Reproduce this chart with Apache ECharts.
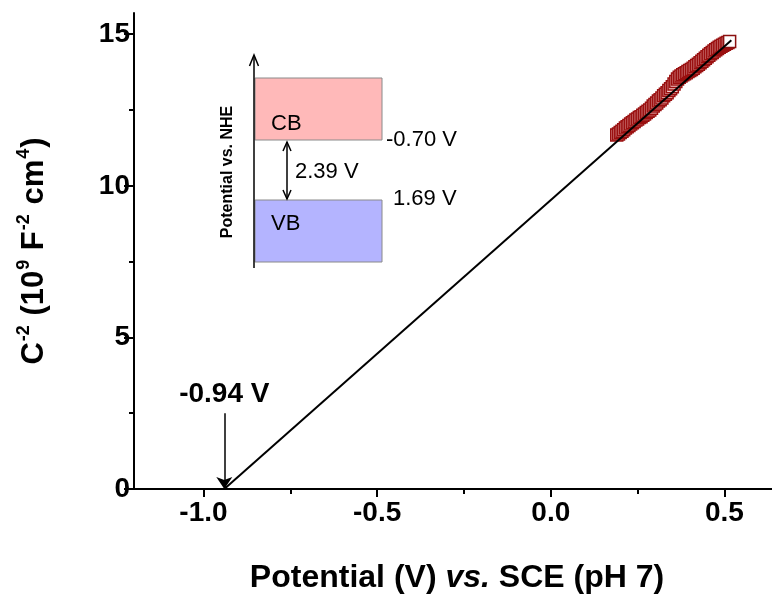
<!DOCTYPE html>
<html>
<head>
<meta charset="utf-8">
<script src="https://cdn.jsdelivr.net/npm/echarts@6/dist/echarts.min.js"></script>
<style>html,body{margin:0;padding:0;background:#fff}#c{width:772px;height:599px}</style>
</head>
<body>
<div id="c"></div>
<script>
// ---- data ----
const xTickValues = [-1.0, -0.5, 0.0, 0.5];
const xMinorTicks = [-0.75, -0.25, 0.25];
const yTickValues = [0, 5, 10, 15];
const yMinorTicks = [2.5, 7.5, 12.5];
const measuredX = [0.190,0.195,0.200,0.205,0.210,0.215,0.220,0.225,0.230,0.235,0.240,0.245,0.250,0.255,0.260,0.265,0.270,0.275,0.280,0.285,0.290,0.295,0.300,0.305,0.310,0.315,0.320,0.325,0.330,0.335,0.340,0.345,0.350,0.355,0.360,0.365,0.370,0.375,0.380,0.385,0.390,0.395,0.400,0.405,0.410,0.415,0.420,0.425,0.430,0.435,0.440,0.445,0.450,0.455,0.460,0.465,0.470,0.475,0.480,0.485,0.490,0.495,0.500,0.505,0.510,0.515];
const measuredY = [11.68,11.71,11.76,11.80,11.85,11.91,11.95,11.99,12.04,12.08,12.12,12.17,12.20,12.25,12.28,12.33,12.37,12.42,12.46,12.50,12.56,12.63,12.68,12.73,12.80,12.84,12.90,12.97,13.02,13.07,13.14,13.20,13.27,13.36,13.44,13.52,13.58,13.62,13.66,13.70,13.73,13.77,13.80,13.84,13.88,13.93,13.97,14.01,14.06,14.11,14.16,14.21,14.26,14.31,14.36,14.40,14.45,14.49,14.53,14.57,14.60,14.64,14.67,14.70,14.73,14.76];
const fitX = [-0.94, 0.52];
const fitY = [0, 14.8];
const flatBand = -0.94;
const flatBandLabel = '-0.94 V';
const bandNames = ['CB', 'VB'];
const bandEdgeLabels = ['-0.70 V', '1.69 V'];
const gapLabel = '2.39 V';
const insetAxisTitle = 'Potential vs. NHE';

const FONT = '"Liberation Sans", Arial, sans-serif';
const chart = echarts.init(document.getElementById('c'));

const scatterData = measuredX.map((x, i) => {
  const last = i === measuredX.length - 1;
  return {
    value: [x, measuredY[i]],
    itemStyle: last ? { color: '#ffffff', borderColor: '#8b1010', borderWidth: 1.5 } : undefined
  };
});

const option = {
  animation: false,
  backgroundColor: '#ffffff',
  grid: { left: 134, top: 13, right: 0, bottom: 108, containLabel: false },
  xAxis: [
    {
      type: 'value', min: -1.2, max: 0.637,
      axisLine: { show: true, onZero: false, lineStyle: { color: '#000', width: 2 } },
      axisTick: { show: true, customValues: xTickValues, length: 8, lineStyle: { color: '#000', width: 2 } },
      axisLabel: { show: true, customValues: xTickValues, margin: 10, color: '#000', fontFamily: FONT, fontWeight: 'bold', fontSize: 28,
        formatter: v => v.toFixed(1) },
      splitLine: { show: false },
      name: '{a|Potential (V) }{b|vs.}{a| SCE (pH 7)}',
      nameLocation: 'middle', nameGap: 73,
      nameTextStyle: { padding: [0, 0, 0, 8], rich: {
        a: { fontFamily: FONT, fontWeight: 'bold', fontSize: 32, color: '#000' },
        b: { fontFamily: FONT, fontWeight: 'bold', fontStyle: 'italic', fontSize: 32, color: '#000' }
      } }
    },
    {
      type: 'value', min: -1.2, max: 0.637, position: 'bottom', offset: 0,
      axisLine: { show: false, onZero: false },
      axisTick: { show: true, customValues: xMinorTicks, length: 5, lineStyle: { color: '#000', width: 2 } },
      axisLabel: { show: false },
      splitLine: { show: false }
    }
  ],
  yAxis: [
    {
      type: 'value', min: 0, max: 15.7,
      axisLine: { show: true, onZero: false, lineStyle: { color: '#000', width: 2 } },
      axisTick: { show: true, customValues: yTickValues, length: 10, lineStyle: { color: '#000', width: 2 } },
      axisLabel: { show: true, customValues: yTickValues, margin: 4, color: '#000', fontFamily: FONT, fontWeight: 'bold', fontSize: 28 },
      splitLine: { show: false },
      name: '{a|C}{s|-2}{a| (10}{s|9}{a| F}{s|-2}{a| cm}{s|4}{a|)}',
      nameLocation: 'middle', nameGap: 84, nameRotate: 90,
      nameTextStyle: { padding: [0, 0, 0, 0], rich: {
        a: { fontFamily: FONT, fontWeight: 'bold', fontSize: 31, color: '#000', lineHeight: 35, verticalAlign: 'bottom' },
        s: { fontFamily: FONT, fontWeight: 'bold', fontSize: 18, color: '#000', lineHeight: 35, verticalAlign: 'top', padding: [0, 1, 12, 1] }
      } }
    },
    {
      type: 'value', min: 0, max: 15.7, position: 'left', offset: 0,
      axisLine: { show: false, onZero: false },
      axisTick: { show: true, customValues: yMinorTicks, length: 5, lineStyle: { color: '#000', width: 2 } },
      axisLabel: { show: false },
      splitLine: { show: false }
    }
  ],
  series: [
    {
      type: 'scatter', xAxisIndex: 0, yAxisIndex: 0,
      symbol: 'rect', symbolSize: 12,
      itemStyle: { color: '#f2c6c6', borderColor: '#9a1010', borderWidth: 1.5, opacity: 1 },
      data: scatterData, z: 2
    },
    {
      type: 'line', xAxisIndex: 0, yAxisIndex: 0,
      data: fitX.map((x, i) => [x, fitY[i]]),
      symbol: 'none', lineStyle: { color: '#000', width: 2 }, z: 3,
      markLine: {
        silent: true, animation: false,
        lineStyle: { color: '#000', width: 1.5, type: 'solid' },
        symbolSize: 12,
        data: [[
          { coord: [flatBand, 2.5], symbol: 'none' },
          { coord: [flatBand, 0], symbol: 'arrow' }
        ]],
        label: { show: true, position: 'start', distance: 5, formatter: flatBandLabel,
          fontFamily: FONT, fontWeight: 'bold', fontSize: 28, color: '#000' }
      }
    }
  ],
  graphic: [
    { type: 'rect', shape: { x: 255, y: 78, width: 127, height: 62 }, style: { fill: '#ffb9b9', stroke: '#8a8a8a', lineWidth: 1 } },
    { type: 'rect', shape: { x: 255, y: 200, width: 127, height: 62 }, style: { fill: '#b4b4ff', stroke: '#8a8a8a', lineWidth: 1 } },
    { type: 'line', shape: { x1: 254, y1: 268, x2: 254, y2: 56 }, style: { stroke: '#000', lineWidth: 1.5 } },
    { type: 'polyline', shape: { points: [[249.5, 66], [254, 55], [258.5, 66]] }, style: { stroke: '#000', lineWidth: 1.5, fill: null } },
    { type: 'line', shape: { x1: 287, y1: 142, x2: 287, y2: 199 }, style: { stroke: '#000', lineWidth: 1.5 } },
    { type: 'polyline', shape: { points: [[283, 151], [287, 142], [291, 151]] }, style: { stroke: '#000', lineWidth: 1.5, fill: null } },
    { type: 'polyline', shape: { points: [[283, 190], [287, 199], [291, 190]] }, style: { stroke: '#000', lineWidth: 1.5, fill: null } },
    { type: 'text', style: { text: bandNames[0], x: 271, y: 124, fontFamily: FONT, fontSize: 22, fill: '#000', verticalAlign: 'middle', align: 'left' } },
    { type: 'text', style: { text: bandNames[1], x: 271, y: 224, fontFamily: FONT, fontSize: 22, fill: '#000', verticalAlign: 'middle', align: 'left' } },
    { type: 'text', style: { text: bandEdgeLabels[0], x: 386, y: 140, fontFamily: FONT, fontSize: 22, fill: '#000', verticalAlign: 'middle', align: 'left' } },
    { type: 'text', style: { text: bandEdgeLabels[1], x: 393, y: 199, fontFamily: FONT, fontSize: 22, fill: '#000', verticalAlign: 'middle', align: 'left' } },
    { type: 'text', style: { text: gapLabel, x: 295, y: 172, fontFamily: FONT, fontSize: 22, fill: '#000', verticalAlign: 'middle', align: 'left' } },
    { type: 'text', rotation: Math.PI / 2, x: 228, y: 172,
      style: { text: insetAxisTitle, x: 0, y: 0, fontFamily: FONT, fontWeight: 'bold', fontSize: 16, fill: '#000', verticalAlign: 'middle', align: 'center' } }
  ]
};
chart.setOption(option);
</script>
</body>
</html>
